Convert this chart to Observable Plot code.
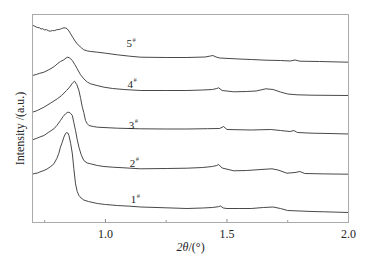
<!DOCTYPE html>
<html><head><meta charset="utf-8">
<script src="https://cdn.jsdelivr.net/npm/d3@7"></script>
<script src="https://cdn.jsdelivr.net/npm/@observablehq/plot@0.6"></script>
<style>body{margin:0;background:#fff} svg{display:block} svg text{font-family:'Liberation Serif','Times New Roman',serif !important}</style>
</head><body><div id="chart"></div>
<script>
// x tick values (2θ, degrees)
const xTicks = [1.0, 1.5, 2.0];
const xMinorTicks = [0.75, 1.25, 1.75];

// sample labels and their anchor positions (2θ, intensity a.u.)
const sampleNames = ["1", "2", "3", "4", "5"];
const labelX = [1.104, 1.100, 1.096, 1.091, 1.087];
const labelY = [23, 59.5, 97.5, 138.5, 179];

// curves: [2θ, intensity (a.u., stacked offsets included)]
const s1 = [[0.70,48.5],[0.71,49],[0.72,49.5],[0.73,50.5],[0.747,52],[0.76,53.5],[0.775,56],[0.788,58.7],[0.80,64],[0.808,69],[0.815,75.3],[0.822,80],[0.829,85.3],[0.835,88.5],[0.840,90],[0.845,89.5],[0.850,87],[0.857,79],[0.864,68.7],[0.870,54],[0.877,38.7],[0.884,31],[0.891,27],[0.90,24.5],[0.911,22.5],[0.93,21],[0.967,19],[1.00,18],[1.049,17],[1.10,16.3],[1.145,15.5],[1.25,14.7],[1.335,14],[1.40,14.5],[1.44,15],[1.465,15.8],[1.473,16.5],[1.485,14.5],[1.50,14],[1.55,14],[1.60,14],[1.65,15],[1.69,15.5],[1.72,14],[1.75,12],[1.80,11.5],[1.85,11],[1.90,10.7],[2.0,10]];
const s2 = [[0.70,82.7],[0.715,84],[0.73,85.5],[0.747,87],[0.765,90],[0.788,93.7],[0.80,97],[0.815,102],[0.826,106],[0.836,108.7],[0.843,110],[0.850,110.3],[0.857,109],[0.864,107],[0.870,100],[0.877,92],[0.884,83],[0.891,75.3],[0.90,68],[0.911,62],[0.925,59.5],[0.939,58.7],[0.967,57],[0.994,56],[1.03,55.3],[1.076,54.7],[1.145,53.7],[1.25,54],[1.335,54.3],[1.40,55],[1.44,56],[1.458,57],[1.466,58],[1.48,54.5],[1.528,51.7],[1.58,52],[1.64,53],[1.685,53.7],[1.71,52.5],[1.747,49.3],[1.78,50],[1.80,51],[1.82,49],[1.90,48.6],[2.0,48.3]];
const s3 = [[0.70,110.3],[0.72,112],[0.747,115.3],[0.775,119.5],[0.802,123.7],[0.82,127],[0.84,132],[0.853,135.5],[0.864,139.3],[0.873,141.3],[0.882,138],[0.891,132],[0.898,124],[0.905,115.3],[0.911,110],[0.918,102],[0.925,99],[0.932,97],[0.95,96],[0.967,95.3],[1.049,94.3],[1.145,93.7],[1.25,93.5],[1.335,93.5],[1.42,93.8],[1.47,94],[1.486,96],[1.50,93],[1.60,92.5],[1.68,93],[1.72,92],[1.76,91],[1.775,92],[1.79,90],[1.85,89.3],[1.92,89],[2.0,88.5]];
const s4 = [[0.70,147],[0.715,148],[0.73,149.2],[0.747,150.3],[0.765,152.5],[0.78,154.5],[0.792,156.5],[0.802,158.7],[0.815,161],[0.829,162.7],[0.838,164.5],[0.845,165.3],[0.853,164.5],[0.864,162],[0.874,158],[0.884,153.7],[0.897,148],[0.911,143.7],[0.925,140.5],[0.939,138.7],[0.965,137],[0.994,135.3],[1.03,134],[1.076,133],[1.145,132],[1.25,132],[1.335,132],[1.40,132.5],[1.44,133],[1.458,134],[1.466,134.7],[1.48,132],[1.528,130.7],[1.58,131],[1.62,131.5],[1.66,133.7],[1.69,133],[1.72,130.5],[1.75,128.5],[1.788,127.7],[1.85,127.3],[2.0,127]];
const s5 = [[0.70,197.3],[0.708,196.5],[0.715,195.5],[0.72,195],[0.728,194.8],[0.735,193.5],[0.742,193.8],[0.75,192.6],[0.758,192.8],[0.766,191.7],[0.774,191.3],[0.782,192],[0.79,191.8],[0.80,192.8],[0.81,193],[0.82,194],[0.829,194.7],[0.836,194.5],[0.842,193.8],[0.85,191.5],[0.857,188.7],[0.866,185],[0.875,181.5],[0.884,178.7],[0.897,175.5],[0.911,172.7],[0.925,171.6],[0.94,171],[0.967,170.3],[1.00,169.3],[1.049,167.7],[1.10,166.3],[1.145,165.3],[1.25,165],[1.335,165],[1.41,165.5],[1.432,166.5],[1.442,167],[1.455,165.5],[1.47,164.5],[1.55,163.5],[1.60,163],[1.66,162.3],[1.72,162],[1.76,161.5],[1.78,162.5],[1.80,161.3],[1.88,161],[2.0,160.3]];

const curves = [s1, s2, s3, s4, s5];
const lineData = curves.flatMap((c, i) => c.map(([x, y]) => ({x, y, s: sampleNames[i]})));
const labels = sampleNames.map((n, i) => ({name: n, x: labelX[i], y: labelY[i]}));
const serif = "'Liberation Serif', 'Times New Roman', serif";

const chart = Plot.plot({
  width: 372,
  height: 263,
  marginLeft: 32,
  marginRight: 24,
  marginTop: 14,
  marginBottom: 41,
  style: {fontFamily: serif, fontSize: "12px", color: "#222", background: "#fff"},
  x: {domain: [0.7, 2.0]},
  y: {domain: [0, 208]},
  marks: [
    Plot.line(lineData, {x: "x", y: "y", z: "s", stroke: "#333", strokeWidth: 0.9}),
    Plot.ruleX(xTicks, {y1: 0, y2: 3, stroke: "#888"}),
    Plot.ruleX(xMinorTicks, {y1: 0, y2: 2, stroke: "#999"}),
    Plot.frame({stroke: "#aaa"}),
    Plot.axisX({ticks: xTicks, tickSize: 0, tickPadding: 7, tickFormat: d3.format(".1f"), label: null, fontSize: 12, fontFamily: serif}),
    Plot.axisY({ticks: [], label: null}),
    Plot.text(labels, {x: "x", y: "y", text: "name", textAnchor: "start", fontSize: 11, fontFamily: serif, fill: "#222"}),
    Plot.text(labels, {x: "x", y: "y", text: d => "#", textAnchor: "start", fontSize: 6.5, fontFamily: serif, dx: 6, dy: -4, fill: "#444"}),
    Plot.text(["Intensity /(a.u.)"], {text: d => d, frameAnchor: "left", textAnchor: "middle", rotate: -90, dx: -12, dy: 10, fontSize: 12, fontFamily: serif, fill: "#222"}),
    Plot.text(["2θ"], {text: d => d, frameAnchor: "bottom", textAnchor: "end", dx: -2, dy: 28, fontSize: 12, fontFamily: serif, fontStyle: "italic", fill: "#222"}),
    Plot.text(["/(°)"], {text: d => d, frameAnchor: "bottom", textAnchor: "start", dx: -2, dy: 28, fontSize: 12, fontFamily: serif, fill: "#222"})
  ]
});
document.getElementById("chart").appendChild(chart);
</script>
</body></html>
